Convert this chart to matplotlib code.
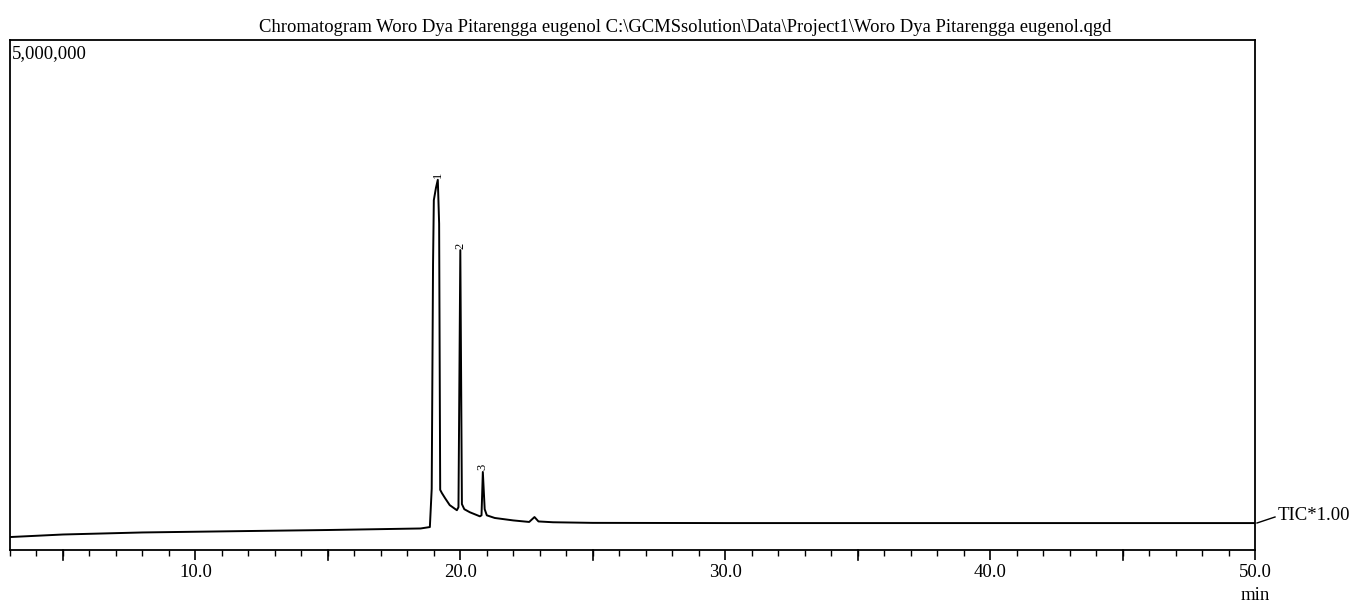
import matplotlib
matplotlib.use("Agg")
import matplotlib.pyplot as plt
from matplotlib.ticker import MultipleLocator, FixedLocator

# Retention time (min) and intensity (TIC counts)
times = [3.0, 5.0, 8.0, 12.0, 15.0, 18.5, 18.85, 18.92, 18.97, 19.0, 19.08, 19.15,
         19.2, 19.24, 19.3, 19.42, 19.6, 19.87, 19.93, 20.0, 20.06, 20.15, 20.36,
         20.74, 20.8, 20.85, 20.92, 21.0, 21.3, 22.0, 22.6, 22.8, 22.95, 23.5,
         25.0, 30.0, 35.0, 40.0, 45.0, 50.0]
intensity = [127e3, 152e3, 172e3, 186e3, 196e3, 211e3, 225e3, 600e3, 2800e3, 3430e3,
             3550e3, 3630e3, 3200e3, 590e3, 560e3, 510e3, 440e3, 390e3, 420e3, 2940e3,
             450e3, 400e3, 370e3, 330e3, 340e3, 765e3, 400e3, 340e3, 314e3, 290e3,
             275e3, 323e3, 280e3, 272e3, 266e3, 264e3, 264e3, 264e3, 264e3, 264e3]

peak_labels = ["1", "2", "3"]
peak_times = [19.15, 20.0, 20.85]
peak_heights = [3630e3, 2940e3, 765e3]

title = "Chromatogram Woro Dya Pitarengga eugenol C:\\GCMSsolution\\Data\\Project1\\Woro Dya Pitarengga eugenol.qgd"

plt.rcParams['font.family'] = ['Liberation Serif', 'DejaVu Serif']

W, H = 1352, 606
fig = plt.figure(figsize=(W / 100, H / 100), dpi=100)
x0, x1, ytop, ybot = 10, 1255, 40, 550
ax = fig.add_axes([x0 / W, (H - ybot) / H, (x1 - x0) / W, (ybot - ytop) / H])

ax.plot(times, intensity, color="black", lw=1.4)
ax.set_xlim(3.0, 50.0)
ax.set_ylim(0, 5e6)

for lab, t, h in zip(peak_labels, peak_times, peak_heights):
    ax.text(t, h + 15e3, lab, rotation=90, ha="center", va="bottom", fontsize=9)

ax.set_yticks([])
ax.xaxis.set_major_locator(FixedLocator([10, 20, 30, 40, 50]))
ax.xaxis.set_major_formatter(plt.FuncFormatter(lambda v, p: f"{v:.1f}"))
ax.xaxis.set_minor_locator(MultipleLocator(1.0))
ax.tick_params(axis="x", which="major", direction="out", length=7, width=1.2,
               labelsize=13.5, pad=3)
ax.tick_params(axis="x", which="minor", direction="out", length=4, width=1.0)
for sp in ax.spines.values():
    sp.set_linewidth(1.3)

# longer ticks at 5-min marks
for t in [5, 15, 25, 35, 45]:
    ax.plot([t, t], [0, -0.02], color="black", lw=1.2, clip_on=False,
            transform=ax.get_xaxis_transform())

fig.text(12 / W, 1 - 54 / H, "5,000,000", ha="left", va="center", fontsize=13.5)
fig.text(685 / W, 1 - 27 / H, title, ha="center", va="center", fontsize=13.4)
fig.text(1255 / W, 1 - 595 / H, "min", ha="center", va="center", fontsize=13.5)

# TIC label with leader line
fig.add_artist(plt.Line2D([1257 / W, 1275 / W], [1 - 523 / H, 1 - 517 / H],
                          color="black", lw=1.0))
fig.text(1278 / W, 1 - 515 / H, "TIC*1.00", ha="left", va="center", fontsize=13.5)

fig.savefig("out.png", dpi=100)
